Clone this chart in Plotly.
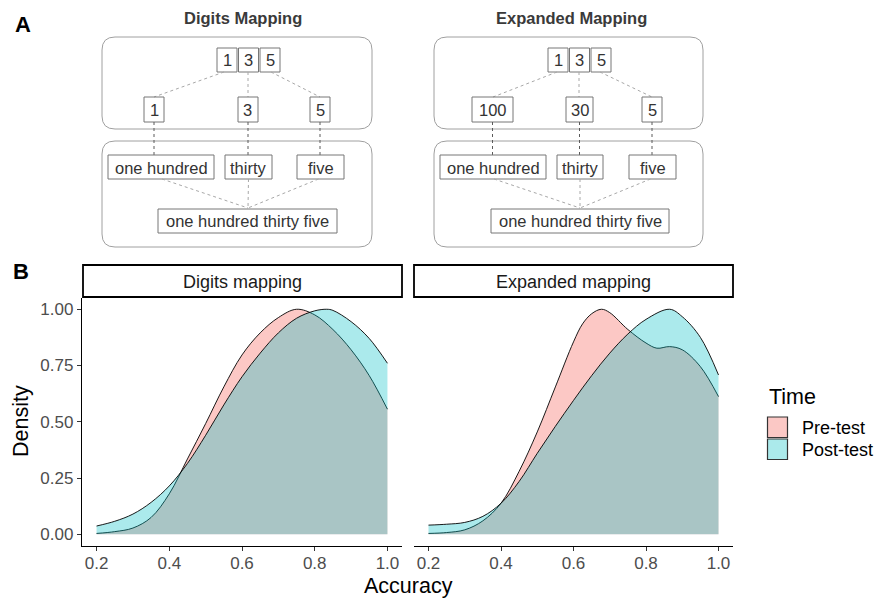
import plotly.graph_objects as go

# ---------------- data ----------------
facets = ["Digits mapping", "Expanded mapping"]
times = ["Pre-test", "Post-test"]

digits_pre_x = [0.20, 0.25, 0.30, 0.35, 0.40, 0.45, 0.50, 0.55, 0.60, 0.65, 0.70, 0.75, 0.80, 0.85, 0.90, 0.95, 1.00]
digits_pre_y = [0.004, 0.012, 0.028, 0.075, 0.180, 0.335, 0.492, 0.655, 0.797, 0.895, 0.963, 1.000, 0.975, 0.910, 0.820, 0.705, 0.556]

digits_post_x = [0.20, 0.25, 0.30, 0.35, 0.40, 0.45, 0.50, 0.55, 0.60, 0.65, 0.70, 0.75, 0.80, 0.833, 0.85, 0.90, 0.95, 1.00]
digits_post_y = [0.037, 0.058, 0.090, 0.142, 0.215, 0.315, 0.440, 0.575, 0.700, 0.805, 0.895, 0.960, 0.993, 1.000, 0.995, 0.945, 0.870, 0.760]

expanded_pre_x = [0.20, 0.25, 0.30, 0.35, 0.40, 0.45, 0.50, 0.55, 0.60, 0.625, 0.65, 0.677, 0.70, 0.75, 0.80, 0.83, 0.865, 0.90, 0.95, 1.00]
expanded_pre_y = [0.004, 0.008, 0.020, 0.060, 0.138, 0.280, 0.455, 0.655, 0.855, 0.935, 0.980, 1.000, 0.985, 0.910, 0.850, 0.827, 0.834, 0.820, 0.745, 0.612]

expanded_post_x = [0.20, 0.25, 0.30, 0.35, 0.40, 0.45, 0.50, 0.55, 0.60, 0.65, 0.70, 0.75, 0.80, 0.865, 0.90, 0.95, 1.00]
expanded_post_y = [0.041, 0.045, 0.053, 0.080, 0.138, 0.235, 0.360, 0.480, 0.595, 0.705, 0.805, 0.890, 0.955, 1.000, 0.967, 0.875, 0.708]

x_ticks = [0.2, 0.4, 0.6, 0.8, 1.0]
x_ticklabels = ["0.2", "0.4", "0.6", "0.8", "1.0"]
y_ticks = [0.0, 0.25, 0.5, 0.75, 1.0]
y_ticklabels = ["0.00", "0.25", "0.50", "0.75", "1.00"]

diagram_titles = ["Digits Mapping", "Expanded Mapping"]
top_digits = ["1", "3", "5"]
digits_place = ["1", "3", "5"]
expanded_place = ["100", "30", "5"]
word_parts = ["one hundred", "thirty", "five"]
full_words = "one hundred thirty five"

# ---------------- helpers (pixel -> paper) ----------------
W, H = 874, 598
FONT = "Liberation Sans, Arial, Helvetica, sans-serif"


def X(p):
    return p / W


def Y(p):
    return 1 - p / H


shapes = []
annotations = []


def rect(x0, y0, x1, y1, color="#777777", width=1, fill=None, dash=None):
    d = dict(type="rect", xref="paper", yref="paper",
             x0=X(x0), x1=X(x1), y0=Y(y1), y1=Y(y0),
             line=dict(color=color, width=width), layer="above")
    if dash:
        d["line"]["dash"] = dash
    if fill:
        d["fillcolor"] = fill
    shapes.append(d)


def rrect(x0, y0, x1, y1, r=13, color="#A0A0A0", width=1):
    p = (f"M {X(x0 + r)},{Y(y0)} L {X(x1 - r)},{Y(y0)} "
         f"Q {X(x1)},{Y(y0)} {X(x1)},{Y(y0 + r)} L {X(x1)},{Y(y1 - r)} "
         f"Q {X(x1)},{Y(y1)} {X(x1 - r)},{Y(y1)} L {X(x0 + r)},{Y(y1)} "
         f"Q {X(x0)},{Y(y1)} {X(x0)},{Y(y1 - r)} L {X(x0)},{Y(y0 + r)} "
         f"Q {X(x0)},{Y(y0)} {X(x0 + r)},{Y(y0)} Z")
    shapes.append(dict(type="path", xref="paper", yref="paper", path=p,
                       line=dict(color=color, width=width), layer="above"))


def seg(x0, y0, x1, y1, color="#A8A8A8", width=1, dash="dot"):
    shapes.append(dict(type="line", xref="paper", yref="paper",
                       x0=X(x0), y0=Y(y0), x1=X(x1), y1=Y(y1),
                       line=dict(color=color, width=width, dash=dash), layer="above"))


def text(x, y, s, size=16, color="#333333", bold=False, xanchor="center", angle=0):
    annotations.append(dict(xref="paper", yref="paper", x=X(x), y=Y(y), text=(f"<b>{s}</b>" if bold else s),
                            showarrow=False, xanchor=xanchor, yanchor="middle", textangle=angle,
                            font=dict(family=FONT, size=size, color=color)))


# ---------------- panel A: diagrams ----------------
def diagram(title, title_x, frame, tops, mids, mid_labels, top_links, bots, conv, final):
    text(title_x, 18, title, size=16.5, color="#3A3A3A", bold=True)
    fx0, fx1 = frame
    rrect(fx0, 37, fx1, 129)
    rrect(fx0, 141, fx1, 247)
    for (a, b), s in zip(tops, top_digits):
        rect(a, 48, b, 72)
        text((a + b) / 2, 60.5, s, size=16.5)
    for (sx, ex) in top_links:
        seg(sx, 72, ex, 97)
    for (a, b), s in zip(mids, mid_labels):
        rect(a, 97, b, 122)
        text((a + b) / 2, 110, s, size=16.5)
        seg((a + b) / 2, 122, (a + b) / 2, 155, color="#5A5A5A")
    for (a, b), s in zip(bots, word_parts):
        rect(a, 155, b, 179)
        text((a + b) / 2, 167.5, s, size=16.5)
    cx, cy = conv
    for xs in [(bots[0][0] + bots[0][1]) / 2 + 1, (bots[1][0] + bots[1][1]) / 2, (bots[2][0] + bots[2][1]) / 2 - 2]:
        seg(xs, 179, cx, cy)
    rect(final[0], 209, final[1], 233)
    text((final[0] + final[1]) / 2, 221.5, full_words, size=16.5)


diagram(diagram_titles[0], 243, (102, 372),
        [(217, 237), (238.5, 258.5), (260, 280)],
        [(144, 164), (238, 258), (310, 330)], digits_place,
        [(224, 154), (248, 248), (271, 320)],
        [(108, 214), (225, 272), (297, 344)], (248, 208), (158, 337))

diagram(diagram_titles[1], 571, (434, 703),
        [(548, 568), (569.5, 589.5), (591, 611)],
        [(472, 513), (566, 593), (642, 662)], expanded_place,
        [(557, 493), (579, 579), (600, 652)],
        [(440, 546), (557, 603), (629, 676)], (580, 208), (491, 669))

text(13, 25, "A", size=22, color="#000000", bold=True, xanchor="left")
text(11, 272, "B", size=22, color="#000000", bold=True, xanchor="left")

# ---------------- panel B: densities ----------------
PRE_FILL = "rgba(248,118,109,0.40)"
POST_FILL = "rgba(0,191,196,0.33)"

fig = go.Figure()
series = [
    ("x", "y", digits_pre_x, digits_pre_y, PRE_FILL, times[0]),
    ("x", "y", digits_post_x, digits_post_y, POST_FILL, times[1]),
    ("x2", "y2", expanded_pre_x, expanded_pre_y, PRE_FILL, times[0]),
    ("x2", "y2", expanded_post_x, expanded_post_y, POST_FILL, times[1]),
]
for xa, ya, xs, ys, fc, nm in series:
    fig.add_trace(go.Scatter(x=xs, y=ys, xaxis=xa, yaxis=ya, mode="lines", name=nm,
                             line=dict(color="#000000", width=0.9, shape="spline", smoothing=1.0),
                             fill="tozeroy", fillcolor=fc, showlegend=False, hoverinfo="skip"))

# strips
for (a, b), lab in zip([(83, 402), (414, 733)], facets):
    rect(a, 265, b, 297, color="#000000", width=1.8, fill="#FFFFFF")
    text((a + b) / 2, 281.5, lab, size=18, color="#1A1A1A")

# axis titles
text(408, 586, "Accuracy", size=21.5, color="#000000")
text(21, 421, "Density", size=21.5, color="#000000", angle=-90)

# legend
text(767, 397, "Time", size=21.5, color="#000000", xanchor="left")
rect(767.5, 417, 787.5, 437.5, color="#333333", width=1.2, fill="rgb(251,200,197)")
rect(767.5, 439, 787.5, 459.5, color="#333333", width=1.2, fill="rgb(171,234,235)")
text(800, 427.5, times[0], size=18, color="#000000", xanchor="left")
text(800, 449.5, times[1], size=18, color="#000000", xanchor="left")

ydom = [1 - 545.6 / H, 1 - 298 / H]
xcommon = dict(range=[0.16, 1.04], tickvals=x_ticks, ticktext=x_ticklabels, ticks="outside",
               ticklen=4, tickwidth=1, tickcolor="#333333", showline=True, linecolor="#000000",
               linewidth=1.3, showgrid=False, zeroline=False, ticklabelstandoff=-2,
               tickfont=dict(family=FONT, size=17, color="#4D4D4D"), fixedrange=True)
fig.update_layout(
    width=W, height=H, margin=dict(l=0, r=0, t=0, b=0),
    paper_bgcolor="white", plot_bgcolor="white", showlegend=False,
    xaxis=dict(domain=[X(82), X(402)], anchor="y", **xcommon),
    xaxis2=dict(domain=[X(414), X(733)], anchor="y2", **xcommon),
    yaxis=dict(domain=ydom, anchor="x", range=[-0.05, 1.05], tickvals=y_ticks, ticktext=y_ticklabels,
               ticks="outside", ticklen=4, tickwidth=1, tickcolor="#333333", showline=True,
               linecolor="#000000", linewidth=1.3, showgrid=False, zeroline=False,
               tickfont=dict(family=FONT, size=17, color="#4D4D4D"), fixedrange=True),
    yaxis2=dict(domain=ydom, anchor="x2", range=[-0.05, 1.05], showline=False, showticklabels=False,
                ticks="", showgrid=False, zeroline=False, fixedrange=True),
    shapes=shapes, annotations=annotations,
)

fig.write_html("out.html", config={"displayModeBar": False},
               post_script="document.body.style.margin='0';document.body.style.padding='0';"
                           "document.body.style.overflow='hidden';")
